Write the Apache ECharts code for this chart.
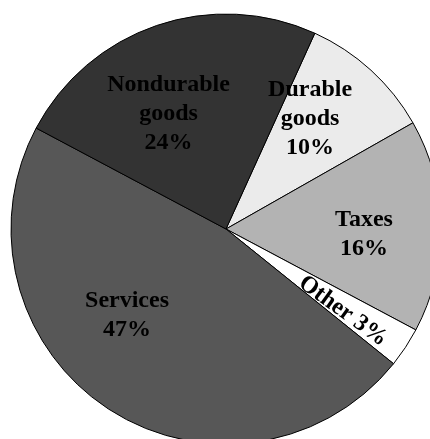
<!DOCTYPE html>
<html>
<head>
<meta charset="utf-8">
<script src="https://cdn.jsdelivr.net/npm/echarts@6/dist/echarts.min.js"></script>
<style>
html, body { margin: 0; padding: 0; background: #fff; }
#main { width: 430px; height: 439px; }
</style>
</head>
<body>
<div id="main"></div>
<script>
var categories = ['Durable\ngoods', 'Taxes', 'Other', 'Services', 'Nondurable\ngoods'];
var shares = [10, 16, 3, 47, 24];
var sliceColors = ['#ebebeb', '#b3b3b3', '#ffffff', '#575757', '#333333'];
// nudges so the labels sit where the original put them
var labelNudge = [[-9, -8], [0, 7], [5, 4], [-23, -29], [-13, 15]];

var chart = echarts.init(document.getElementById('main'));

var sliceData = [];
var labelData = [];
for (var i = 0; i < categories.length; i++) {
	sliceData.push({
		name: categories[i],
		value: shares[i],
		itemStyle: { color: sliceColors[i] }
	});
	var item = { name: categories[i], value: shares[i], label: { offset: labelNudge[i] } };
	// the thin slice gets its label turned along the radius
	if (categories[i] === 'Other') {
		item.label.rotate = -36;
		item.label.formatter = '{b} {c}%';
	}
	labelData.push(item);
}

var center = [226, 229];
var startAngle = 65.6;

var option = {
	animation: false,
	series: [
		{
			type: 'pie',
			center: center,
			radius: [0, 215],
			startAngle: startAngle,
			clockwise: true,
			silent: true,
			label: { show: false },
			labelLine: { show: false },
			itemStyle: { borderColor: '#000', borderWidth: 1 },
			data: sliceData
		},
		{
			// invisible pie used only to place the labels further out
			type: 'pie',
			center: center,
			radius: [0, 270],
			startAngle: startAngle,
			clockwise: true,
			silent: true,
			itemStyle: { color: 'rgba(0,0,0,0)', borderWidth: 0 },
			labelLine: { show: false },
			label: {
				show: true,
				position: 'inside',
				formatter: '{b}\n{c}%',
				fontFamily: 'Liberation Serif',
				fontWeight: 'bold',
				fontSize: 24,
				lineHeight: 29,
				color: '#000',
				align: 'center'
			},
			data: labelData
		}
	]
};
chart.setOption(option);
</script>
</body>
</html>
